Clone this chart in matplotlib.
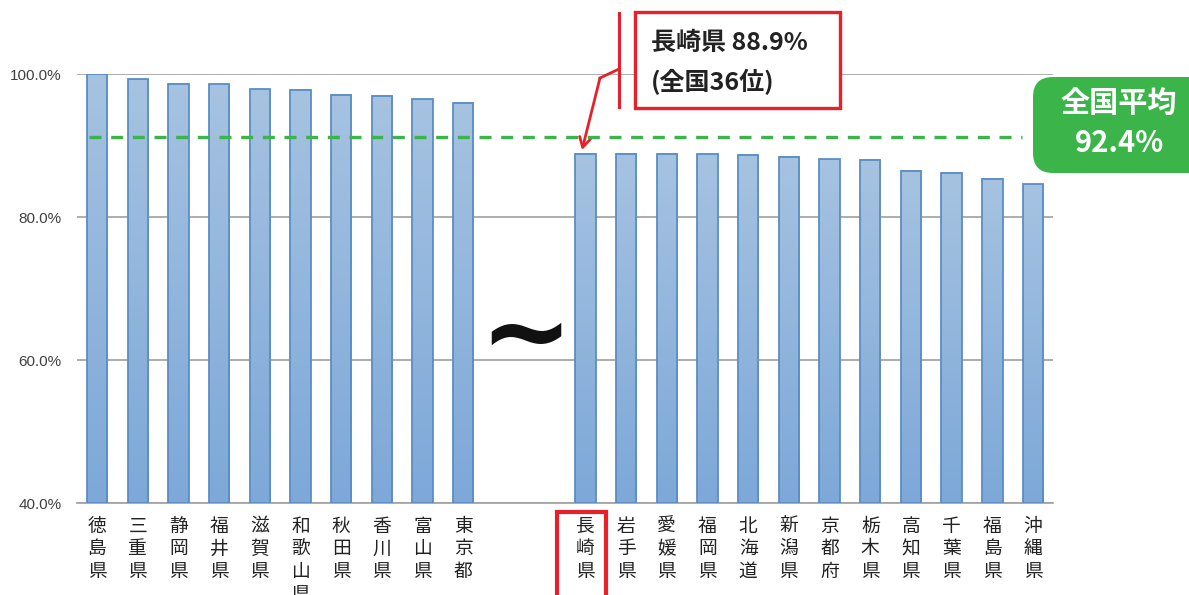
import matplotlib
matplotlib.use("Agg")
import matplotlib.pyplot as plt
import matplotlib.transforms as mtransforms
from matplotlib.patches import Rectangle, FancyBboxPatch
from matplotlib.colors import LinearSegmentedColormap
import numpy as np

plt.rcParams['font.family'] = ['Noto Sans CJK JP', 'DejaVu Sans']

# ---- data ----
prefs_top = ["徳島県", "三重県", "静岡県", "福井県", "滋賀県", "和歌山県", "秋田県", "香川県", "富山県", "東京都"]
vals_top = [100.0, 99.3, 98.7, 98.6, 97.9, 97.8, 97.1, 97.0, 96.5, 96.0]
prefs_bottom = ["長崎県", "岩手県", "愛媛県", "福岡県", "北海道", "新潟県", "京都府", "栃木県", "高知県", "千葉県", "福島県", "沖縄県"]
vals_bottom = [88.9, 88.9, 88.9, 88.8, 88.7, 88.5, 88.1, 88.0, 86.5, 86.2, 85.4, 84.6]
yticks = [40, 60, 80, 100]
ytick_labels = ["40.0%", "60.0%", "80.0%", "100.0%"]
avg_line = 91.2
avg_label = "全国平均\n92.4%"
callout_text = "長崎県 88.9%\n(全国36位)"
gap_slots = 2

W, H = 1189, 595
fig = plt.figure(figsize=(W / 100, H / 100), dpi=100)
ax = fig.add_axes([76.65 / W, (H - 503.3) / H, (1053.4 - 76.65) / W, (503.3 - 74.3) / H])

names = prefs_top + prefs_bottom
vals = vals_top + vals_bottom
xs = list(range(len(prefs_top))) + [len(prefs_top) + gap_slots + i for i in range(len(prefs_bottom))]

ymin, ymax = 40, 100
cmap = LinearSegmentedColormap.from_list("g", ["#7DA8D8", "#A6C3E1"])
grad = np.linspace(0, 1, 256).reshape(-1, 1)
bw = 0.5
for x, v in zip(xs, vals):
    ax.imshow(grad, extent=[x - bw / 2, x + bw / 2, ymin, v], origin='lower',
              aspect='auto', cmap=cmap, zorder=2, interpolation='bilinear')
    ax.add_patch(Rectangle((x - bw / 2, ymin), bw, v - ymin, facecolor='none',
                           edgecolor='#5A8DC5', linewidth=1.3, zorder=3))

ax.set_xlim(-0.5, xs[-1] + 0.5)
ax.set_ylim(ymin, ymax)
for s in ['top', 'right', 'left']:
    ax.spines[s].set_visible(False)
ax.spines['bottom'].set_color('#A0A0A0')
ax.spines['bottom'].set_linewidth(1.2)
ax.set_yticks(yticks)
ax.set_yticklabels(ytick_labels, family='Liberation Sans', fontsize=11, color='#404040')
ax.tick_params(axis='y', length=0, pad=11)
ax.yaxis.grid(True, color='#A0A0A0', linewidth=1.2, zorder=1)
ax.set_axisbelow(True)

ax.set_xticks(xs)
ax.set_xticklabels(["\n".join(n) for n in names], fontsize=13.5, color='#222222',
                   linespacing=1.1, va='top')
ax.tick_params(axis='x', length=0, pad=9)

# average line
ax.plot([-0.2, 22.74], [avg_line, avg_line], color='#3CB44B', linewidth=2.4,
        dashes=(3.6, 2.9), zorder=4, solid_capstyle='butt')

I = mtransforms.IdentityTransform()
def P(x, y):
    return (x, H - y)

# tilde
fig.text(*P(526, 338), "~", transform=I, family='DejaVu Sans', fontweight='bold',
         fontsize=80, ha='center', va='center', color='#111111')

red = '#E8202A'
# callout box
x0, y0 = P(635, 108)
fig.patches.append(Rectangle((x0, y0), 840 - 635, 108 - 12, transform=I,
                             facecolor='white', edgecolor=red, linewidth=2.4, zorder=5))
fig.lines.append(plt.Line2D([619, 619], [H - 13, H - 107], transform=I, color=red, linewidth=2.2))
fig.lines.append(plt.Line2D([619, 600], [H - 69, H - 78], transform=I, color=red, linewidth=2.0))
ax.annotate("", xy=P(582, 150), xycoords=I, xytext=P(600, 78), textcoords=I,
            arrowprops=dict(arrowstyle='->,head_length=0.7,head_width=0.4', color=red,
                            linewidth=2.0, shrinkA=0, shrinkB=0), annotation_clip=False)
fig.text(*P(651, 63), callout_text, transform=I, fontsize=18, fontweight='bold',
         color='#222222', ha='left', va='center', linespacing=1.7, zorder=6)

# green average box
gx, gy = P(1033, 173)
fig.patches.append(FancyBboxPatch((gx, gy), 200, 96, transform=I,
                                  boxstyle='round,pad=0,rounding_size=20',
                                  facecolor='#3BB54A', edgecolor='none', zorder=5))
fig.text(*P(1119, 123), avg_label, transform=I, fontsize=21, fontweight='bold',
         color='white', ha='center', va='center', linespacing=1.4, zorder=6)

# red box around Nagasaki label
fig.patches.append(Rectangle(P(557, 600), 606 - 557, 600 - 512, transform=I,
                             facecolor='none', edgecolor=red, linewidth=3.0, zorder=5))

fig.savefig("out.png", dpi=100)
